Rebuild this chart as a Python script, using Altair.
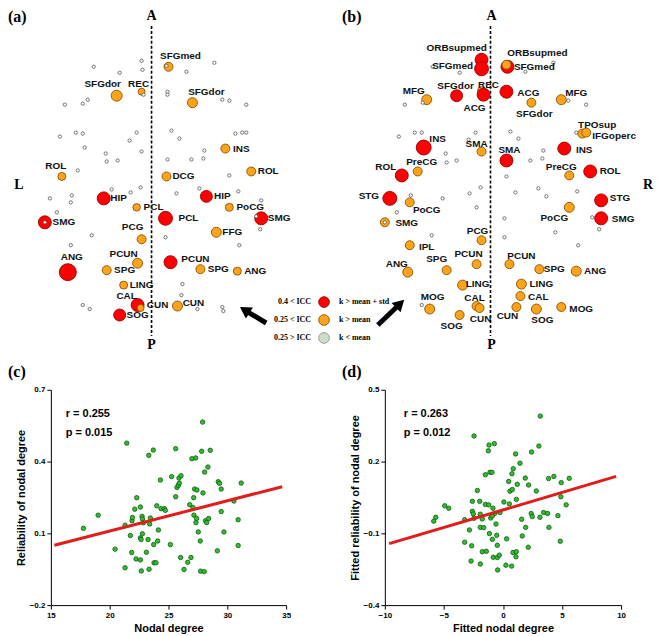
import altair as alt
import pandas as pd

# ---------------- Panels (a) and (b): brain node maps (figure units) ----------------
node_x = [104, 207, 45, 166, 262, 68, 171, 138, 120,
          169, 117, 142, 193, 226, 62, 167, 252, 137, 230, 142, 217, 138, 107, 201, 238, 124, 141, 178,
          483,
          483, 483, 509, 458, 485, 508, 425, 508, 566, 403, 592, 391, 603, 603,
          508, 428, 533, 563, 584, 588, 483, 419, 571, 411, 386, 483, 411, 478, 448, 409, 464, 431, 478,
          481, 461, 571, 511, 541, 578, 523, 522, 518, 538, 563]
node_y = [195, 193, 219, 215, 215, 269, 259, 302, 312,
          63, 92, 88, 99, 145, 173, 173, 168, 204, 204, 236, 229, 260, 267, 266, 268, 282, 305, 303,
          87,
          56, 65, 63, 92, 91, 88, 144, 157, 145, 172, 168, 195, 197, 215,
          61, 96, 99, 96, 130, 129, 148, 168, 172, 199, 219, 237, 242, 261, 267, 269, 282, 306, 303,
          305, 312, 204, 261, 266, 268, 281, 293, 304, 306, 304]
node_type = (["red"] * 9 + ["orange"] * 19 + ["orange"] + ["red"] * 14 + ["orange"] * 30)
node_diam = [13, 12, 13, 14, 13, 17, 13, 13, 12,
             9, 11, 7, 10, 9, 8, 9, 9, 7.5, 8, 9, 10, 10, 9, 9, 8, 8, 7, 10,
             8,
             13, 14, 13, 12, 13, 13, 15, 13, 13, 13, 13, 14, 13, 13,
             9, 10, 9, 10, 9, 9, 9, 9, 9, 9, 9, 9, 9, 9, 9, 10, 10, 10, 9,
             9, 9, 10, 9, 9, 10, 10, 9, 9, 10, 9]

dot_x = [142, 94, 120, 143, 65, 83, 88, 60, 76, 83, 137, 130, 85, 106, 142, 107, 118, 78, 144,
         215, 187, 168, 168, 223, 230, 247, 172, 180, 236, 243, 247, 205, 168, 192, 204, 230, 167,
         50, 72, 71, 112, 131, 141, 177, 200, 239, 262, 57, 92, 166, 71, 261, 240, 183, 182, 83, 90,
         198, 223, 224, 257, 45,
         434, 555, 461, 527, 406, 424, 570, 588, 400, 416, 423, 477, 512, 520, 578, 470, 447, 448, 458,
         545, 532, 544, 508, 412, 444, 471, 482, 478, 398, 433, 423, 517, 540, 548, 579, 506, 506, 557,
         580, 594, 601, 386]
dot_y = [57, 63, 69, 66, 101, 100, 96, 133, 129, 130, 129, 137, 144, 150, 148, 158, 157, 167, 91,
         59, 68, 88, 91, 96, 97, 101, 127, 135, 130, 129, 129, 147, 156, 156, 155, 172, 62,
         195, 192, 199, 186, 189, 184, 190, 185, 188, 197, 209, 232, 234, 242, 226, 242, 281, 292, 302, 306,
         306, 304, 308, 213, 219,
         63, 59, 69, 68, 101, 99, 97, 101, 133, 129, 129, 129, 128, 135, 129, 136, 150, 159, 157,
         147, 157, 155, 173, 192, 195, 190, 184, 204, 209, 232, 302, 189, 185, 193, 188, 215, 234, 229,
         242, 214, 226, 219]

label_text = ["SFGmed", "SFGdor", "REC", "SFGdor", "INS", "ROL", "DCG", "ROL", "HIP", "HIP", "PCL", "PoCG",
              "SMG", "PCL", "SMG", "PCG", "FFG", "ANG", "PCUN", "SPG", "PCUN", "SPG", "ANG", "LING", "CAL",
              "CUN", "CUN", "SOG",
              "ORBsupmed", "SFGmed", "ORBsupmed", "SFGmed", "SFGdor", "REC", "ACG", "ACG", "MFG", "SFGdor",
              "MFG", "TPOsup", "IFGoperc", "INS", "SMA", "SMA", "INS", "PreCG", "ROL", "PreCG", "ROL", "STG",
              "PoCG", "SMG", "PCG", "IPL", "PCUN", "SPG", "ANG", "LING", "MOG", "CAL", "CUN", "SOG", "STG",
              "PoCG", "SMG", "PCUN", "SPG", "ANG", "LING", "CAL", "CUN", "SOG", "MOG"]
label_x = [181, 103, 139, 207, 242, 56, 184, 269, 119, 223, 154, 251,
           64, 189, 280, 133, 233, 72, 124, 125, 196, 219, 256, 142, 127,
           158, 194, 138,
           458, 454, 539, 536, 457, 490, 476, 530, 415, 536,
           578, 599, 616, 439, 478, 511, 586, 423, 387, 563, 612, 370,
           428, 408, 479, 428, 470, 438, 398, 479, 434, 476, 482, 453, 622,
           556, 625, 523, 556, 597, 543, 540, 509, 544, 583]
label_y = [52, 80, 80, 88, 145, 163, 173, 168, 195, 193, 204, 204,
           219, 215, 215, 224, 229, 254, 251, 267, 256, 266, 268, 282, 293,
           302, 300, 312,
           44, 62, 49, 63, 82, 81, 104, 89, 87, 110,
           89, 121, 132, 135, 140, 146, 146, 159, 164, 164, 168, 193,
           207, 220, 228, 244, 251, 256, 261, 281, 294, 295, 316, 323, 195,
           215, 216, 253, 266, 268, 281, 294, 313, 317, 306]

mid_x = [152, 492]
mid_top = [22, 22]
mid_bottom = [333, 333]

orient_text = ["A", "P", "A", "P", "L", "R"]
orient_x = [152, 152, 493, 493, 19, 650]
orient_y = [12, 342, 12, 342, 182, 182]

panel_text = ["(a)", "(b)", "(c)", "(d)"]
panel_x = [8, 343, 8, 343]
panel_y = [13, 13, 369, 369]

legend_left = ["0.4 < ICC", "0.25 < ICC", "0.25 > ICC"]
legend_right = ["k > mean + std", "k > mean", "k < mean"]
legend_type = ["red", "orange", "green"]
legend_y = [299, 317, 335]
legend_text_x = [312, 312, 312]
legend_dot_x = [325, 325, 325]
legend_right_x = [340, 340, 340]

arrow_tail_x = [267, 379]
arrow_tail_y = [320, 322]
arrow_head_x = [247, 400]
arrow_head_y = [308, 302]
arrow_angle = [303, 46]

# ---------------- Panel (c) ----------------
c_x = [17.77, 19.02, 20.46, 21.31, 21.31, 21.45, 21.76, 21.87, 21.90, 21.93, 22.13, 22.30, 22.24, 22.61,
       22.61, 22.61, 22.67, 22.69, 22.75, 22.78, 22.78, 22.86, 23.12, 23.26, 23.32, 23.35, 23.40, 23.46,
       23.71, 23.74, 23.77, 23.94, 24.00, 24.08, 24.14, 24.31, 24.37, 24.65, 24.73, 25.16, 25.27, 25.61,
       25.61, 25.72, 25.84, 25.89, 25.92, 26.06, 26.03, 26.32, 26.63, 26.80, 26.91, 26.99, 27.08, 27.14,
       27.16, 27.22, 27.31, 27.33, 27.39, 27.42, 27.53, 27.70, 27.73, 27.82, 27.93, 28.04, 28.07, 28.15,
       28.24, 28.35, 28.41, 28.55, 29.15, 29.23, 29.34, 29.48, 29.48, 29.71, 30.56, 30.92, 30.92, 31.18,
       27.90]
c_y = [0.121, 0.176, 0.034, 0.134, -0.044, 0.477, 0.091, 0.020, 0.153, 0.166, 0.201, 0.249, -0.007, 0.210,
       -0.011, 0.081, 0.074, -0.057, 0.171, 0.160, 0.098, 0.144, 0.021, 0.074, 0.426, -0.050, 0.139, 0.164,
       0.448, 0.053, -0.023, -0.023, 0.215, 0.068, 0.114, 0.323, 0.203, 0.203, 0.196, 0.053, 0.337, 0.454,
       0.253, 0.292, 0.301, 0.331, 0.310, 0.341, -0.001, -0.051, -0.021, 0.220, -0.001, 0.412, 0.208, 0.249,
       0.176, 0.285, 0.415, 0.145, 0.162, 0.281, 0.106, 0.068, -0.058, 0.443, 0.269, -0.060, 0.356, 0.153,
       0.145, 0.377, 0.162, 0.447, 0.027, 0.316, 0.309, 0.285, 0.191, 0.106, 0.235, 0.157, 0.049, 0.310,
       0.565]
c_line_x = [15.3, 34.66]
c_line_y = [0.050, 0.295]

# ---------------- Panel (d) ----------------
d_x = [-5.86, -5.69, -4.93, -4.59, -3.24, -3.24, -2.84, -2.65, -2.59, -2.59, -2.51, -2.45, -2.70, -2.45,
       -2.17, -1.97, -1.92, -1.92, -1.92, -1.75, -1.63, -1.75, -1.49, -1.49, -1.41, -1.24, -1.18, -1.21,
       -1.15, -1.10, -1.04, -0.93, -0.90, -0.90, -0.85, -0.82, -0.73, -0.68, -0.59, -0.53, -0.48, -0.48,
       -0.45, -0.31, -0.25, 0.08, 0.31, 0.25, 0.48, 0.54, 0.59, 0.73, 0.76, 0.79, 0.85, 0.87, 1.07, 1.10,
       1.13, 1.13, 1.21, 1.44, 1.58, 1.63, 1.92, 1.89, 2.14, 2.17, 2.39, 2.48, 2.42, 2.82, 3.04, 3.13,
       3.16, 3.44, 3.78, 3.86, 3.89, 4.31, 4.65, 4.85, 4.93, 4.90, 5.35, 5.61]
d_y = [-0.049, -0.033, 0.015, 0.005, -0.043, -0.137, -0.086, -0.152, 0.034, -0.008, -0.019, -0.037, -0.216,
       0.307, 0.079, 0.034, -0.075, -0.020, -0.228, -0.040, -0.076, -0.177, 0.145, 0.021, -0.175, 0.245,
       0.269, 0.019, -0.101, 0.155, -0.036, 0.155, -0.125, -0.027, 0.005, -0.200, 0.275, -0.016, -0.061,
       -0.108, -0.150, -0.201, -0.253, -0.191, -0.013, 0.031, -0.123, -0.233, 0.117, 0.023, 0.076, -0.237,
       0.149, 0.083, -0.180, 0.170, 0.232, -0.198, -0.177, 0.042, 0.105, 0.193, -0.041, -0.111, -0.075,
       0.131, -0.158, 0.102, -0.017, -0.030, 0.240, 0.077, 0.265, -0.033, 0.390, -0.013, -0.017, 0.129,
       -0.075, 0.138, -0.026, -0.133, 0.112, 0.053, 0.019, 0.130]
d_line_x = [-9.63, 9.58]
d_line_y = [-0.143, 0.138]

SANS = "Liberation Sans"
SERIF = "Liberation Serif"

# ---------------- top chart (node maps + legend) ----------------
XS = alt.Scale(domain=[51, 654], nice=False, zero=False)
YS = alt.Scale(domain=[8, 380], nice=False, zero=False, reverse=True)


def X(f):
    return alt.X(f, type="quantitative", scale=XS, axis=None)


def Y(f):
    return alt.Y(f, type="quantitative", scale=YS, axis=None)


fill_scale = alt.Scale(domain=["red", "orange", "green"], range=["#FF0000", "#FFA31A", "#C9DFC9"])
stroke_scale = alt.Scale(domain=["red", "orange", "green"], range=["#9A0000", "#8A5200", "#8A9A8A"])

mid_df = pd.DataFrame({"x": mid_x, "y": mid_top, "y2": mid_bottom})
midlines = alt.Chart(mid_df).mark_rule(color="black", strokeWidth=1.6, strokeDash=[3, 2]).encode(
    x=X("x"), y=Y("y"), y2="y2")

nodes_df = pd.DataFrame({"x": node_x, "y": node_y, "t": node_type,
                         "s": [d * d for d in node_diam]})
nodes = alt.Chart(nodes_df).mark_point(shape="circle", filled=True, opacity=1, strokeWidth=0.9).encode(
    x=X("x"), y=Y("y"),
    fill=alt.Fill("t:N", scale=fill_scale, legend=None),
    stroke=alt.Stroke("t:N", scale=stroke_scale, legend=None),
    size=alt.Size("s:Q", scale=None, legend=None))

dots_df = pd.DataFrame({"x": dot_x, "y": dot_y})
dots = alt.Chart(dots_df).mark_point(shape="circle", filled=True, fill="white", stroke="#555555",
                                     strokeWidth=0.8, size=11, opacity=1).encode(x=X("x"), y=Y("y"))

lab_df = pd.DataFrame({"x": label_x, "y": label_y, "t": label_text})
labels = alt.Chart(lab_df).mark_text(font=SANS, fontWeight="bold", fontSize=10, color="#111111",
                                     align="center", baseline="middle").encode(x=X("x"), y=Y("y"), text="t:N")

or_df = pd.DataFrame({"x": orient_x, "y": orient_y, "t": orient_text})
orient = alt.Chart(or_df).mark_text(font=SERIF, fontWeight="bold", fontSize=14, color="black",
                                    align="center", baseline="middle").encode(x=X("x"), y=Y("y"), text="t:N")

pn_df = pd.DataFrame({"x": panel_x, "y": panel_y, "t": panel_text})
panels = alt.Chart(pn_df).mark_text(font=SERIF, fontWeight="bold", fontSize=16, color="black",
                                    align="left", baseline="middle").encode(x=X("x"), y=Y("y"), text="t:N")

leg_df = pd.DataFrame({"tx": legend_text_x, "dx": legend_dot_x, "rx": legend_right_x, "y": legend_y,
                       "l": legend_left, "r": legend_right, "t": legend_type})
leg_left = alt.Chart(leg_df).mark_text(font=SERIF, fontWeight="bold", fontSize=8, color="black",
                                       align="right", baseline="middle").encode(x=X("tx"), y=Y("y"), text="l:N")
leg_right = alt.Chart(leg_df).mark_text(font=SERIF, fontWeight="bold", fontSize=8, color="black",
                                        align="left", baseline="middle").encode(x=X("rx"), y=Y("y"), text="r:N")
leg_dots = alt.Chart(leg_df).mark_point(shape="circle", filled=True, opacity=1, size=115,
                                        strokeWidth=0.9).encode(
    x=X("dx"), y=Y("y"),
    fill=alt.Fill("t:N", scale=fill_scale, legend=None),
    stroke=alt.Stroke("t:N", scale=stroke_scale, legend=None))

arr_df = pd.DataFrame({"x": arrow_tail_x, "y": arrow_tail_y, "x2": arrow_head_x, "y2": arrow_head_y,
                       "a": arrow_angle})
arr_shaft = alt.Chart(arr_df).mark_rule(color="black", strokeWidth=5).encode(
    x=X("x"), y=Y("y"), x2="x2", y2="y2")
arr_head = alt.Chart(arr_df).mark_point(shape="triangle", filled=True, color="black", opacity=1,
                                        size=170).encode(
    x=X("x2"), y=Y("y2"), angle=alt.Angle("a:Q", scale=None))

top = alt.layer(midlines, nodes, dots, labels, orient, panels, leg_dots, leg_left, leg_right,
                arr_shaft, arr_head).properties(width=603, height=372)


# ---------------- bottom scatter panels ----------------
def scatter(xv, yv, lx, ly, xdom, xvals, ydom, yvals, xtitle, ytitle, rtxt, ptxt, tx, ty, width):
    xs = alt.Scale(domain=xdom, nice=False, zero=False)
    ys = alt.Scale(domain=ydom, nice=False, zero=False)
    xax = alt.Axis(values=xvals, title=xtitle, grid=False, labelFont=SANS, labelFontWeight="bold",
                   labelFontSize=8, labelColor="black", titleFont=SANS, titleFontWeight="bold",
                   titleFontSize=11, titleColor="black", domainColor="black", tickColor="black",
                   tickSize=4, labelPadding=2, titlePadding=3, format="d", labelFlush=False)
    yax = alt.Axis(values=yvals, title=ytitle, grid=False, labelFont=SANS, labelFontWeight="bold",
                   labelFontSize=8, labelColor="black", titleFont=SANS, titleFontWeight="bold",
                   titleFontSize=11, titleColor="black", domainColor="black", tickColor="black",
                   tickSize=4, labelPadding=2, titlePadding=3, format=".1f", labelFlush=False)
    pts_df = pd.DataFrame({"x": xv, "y": yv})
    pts = alt.Chart(pts_df).mark_point(shape="circle", filled=True, fill="#33BB33", stroke="#0B5E0B",
                                       strokeWidth=0.8, size=20, opacity=1).encode(
        x=alt.X("x:Q", scale=xs, axis=xax), y=alt.Y("y:Q", scale=ys, axis=yax))
    ln_df = pd.DataFrame({"x": lx, "y": ly})
    line = alt.Chart(ln_df).mark_line(color="#E21B1B", strokeWidth=3).encode(
        x=alt.X("x:Q", scale=xs), y=alt.Y("y:Q", scale=ys))
    t_df = pd.DataFrame({"x": [tx, tx], "y": ty, "t": [rtxt, ptxt]})
    txt = alt.Chart(t_df).mark_text(font=SANS, fontWeight="bold", fontSize=11, color="black",
                                    align="left", baseline="middle").encode(
        x=alt.X("x:Q", scale=xs), y=alt.Y("y:Q", scale=ys), text="t:N")
    return alt.layer(pts, line, txt).properties(width=width, height=216)


panel_c = scatter(c_x, c_y, c_line_x, c_line_y, [15, 35], [15, 20, 25, 30, 35], [-0.2, 0.7],
                  [-0.2, 0.1, 0.4, 0.7], "Nodal degree", "Reliability of nodal degree",
                  "r = 0.255", "p = 0.015", 16.27, [0.598, 0.519], 236)
panel_d = scatter(d_x, d_y, d_line_x, d_line_y, [-10, 10], [-10, -5, 0, 5, 10], [-0.4, 0.5],
                  [-0.4, -0.1, 0.2, 0.5], "Fitted nodal degree", "Fitted reliability of nodal degree",
                  "r = 0.263", "p = 0.012", -8.39, [0.398, 0.319], 237)

bottom = alt.hconcat(panel_c, panel_d, spacing=99, bounds="flush")

chart = alt.vconcat(top, bottom, spacing=7, bounds="flush").properties(
    padding=0, background="white").configure_view(stroke=None)

chart.save("out.html", embed_options={"renderer": "svg", "actions": False})
